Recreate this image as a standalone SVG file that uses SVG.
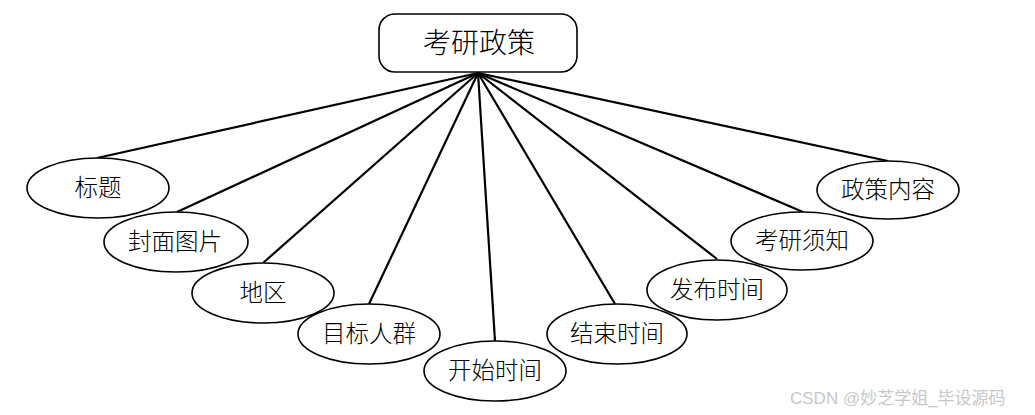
<svg xmlns="http://www.w3.org/2000/svg" width="1035" height="415" viewBox="0 0 1035 415">
<style>
.n{fill:#fff;stroke:#000;stroke-width:1.6}
.t{font-family:"Liberation Serif","Noto Sans CJK SC",serif;font-size:23.5px;font-weight:300;fill:#000;text-anchor:middle;dominant-baseline:central}
.c line{stroke:#000;stroke-width:2.2}
.w{font-family:"Liberation Sans","Noto Sans CJK SC",sans-serif;font-size:17px;fill:#c8c8c8}
</style>
<rect width="1035" height="415" fill="#fff"/>
<g id="connectors" class="c">
<line x1="478" y1="73" x2="97" y2="158"/>
<line x1="478" y1="73" x2="177" y2="212"/>
<line x1="478" y1="73" x2="263" y2="263"/>
<line x1="478" y1="73" x2="369" y2="304"/>
<line x1="478" y1="73" x2="495" y2="341"/>
<line x1="478" y1="73" x2="615" y2="304"/>
<line x1="478" y1="73" x2="717" y2="259"/>
<line x1="478" y1="73" x2="803" y2="212"/>
<line x1="478" y1="73" x2="888" y2="161"/>
</g>
<g id="root"><rect class="n" x="379" y="14" width="198" height="58" rx="16"/><text class="t" x="479" y="43" style="font-size:28px">考研政策</text></g>
<g id="n1"><ellipse class="n" cx="98" cy="188" rx="71" ry="30"/><text class="t" x="98" y="188">标题</text></g>
<g id="n2"><ellipse class="n" cx="176" cy="242" rx="72" ry="30"/><text class="t" x="175" y="242">封面图片</text></g>
<g id="n3"><ellipse class="n" cx="263" cy="293" rx="71" ry="30"/><text class="t" x="263" y="293">地区</text></g>
<g id="n4"><ellipse class="n" cx="369" cy="334" rx="71" ry="30"/><text class="t" x="369" y="334">目标人群</text></g>
<g id="n5"><ellipse class="n" cx="495" cy="371" rx="71" ry="30"/><text class="t" x="495" y="371">开始时间</text></g>
<g id="n6"><ellipse class="n" cx="617" cy="334" rx="70" ry="30"/><text class="t" x="617" y="334">结束时间</text></g>
<g id="n7"><ellipse class="n" cx="717" cy="290" rx="70" ry="30"/><text class="t" x="717" y="290">发布时间</text></g>
<g id="n8"><ellipse class="n" cx="802" cy="241" rx="71" ry="29"/><text class="t" x="802" y="241">考研须知</text></g>
<g id="n9"><ellipse class="n" cx="888" cy="190" rx="71" ry="29"/><text class="t" x="888" y="190">政策内容</text></g>
<text class="w" x="790" y="404">CSDN @妙芝学姐_毕设源码</text>
</svg>
